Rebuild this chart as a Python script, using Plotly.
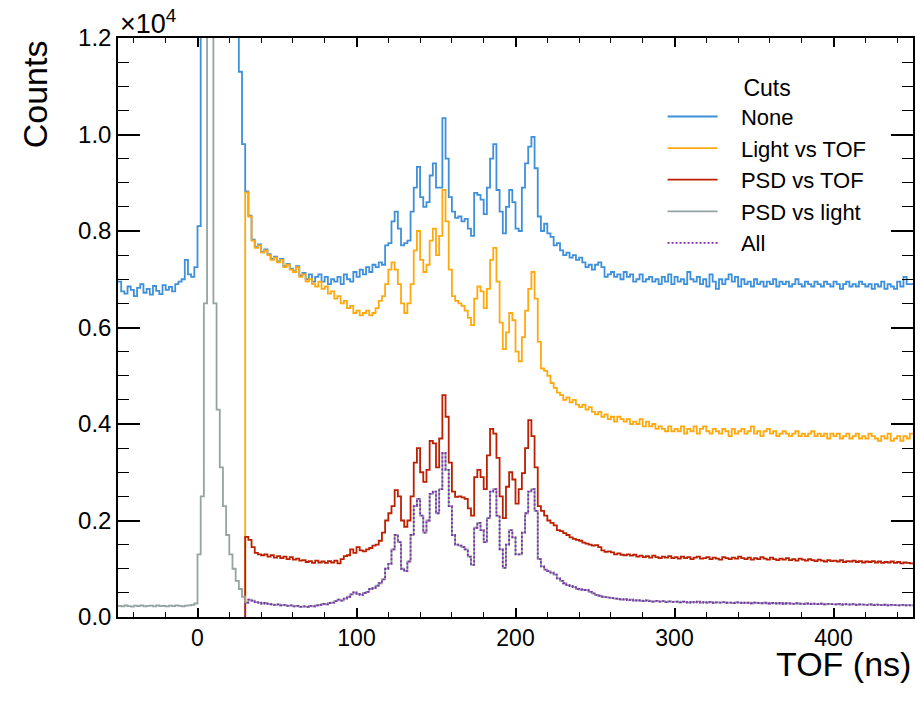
import plotly.graph_objects as go

# ---------------- data (2 ns bins, values = counts) ----------------
BIN = 2
TOF_START = -50      # first bin left edge of full-range histograms
CUT_START = 30       # first bin left edge of TOF-cut histograms

# "None" cut, bins -50 .. 28 ns
none_pre = [6950, 6750, 6700, 6850, 6780, 6650, 6820, 6900, 6720, 6800,
            6680, 6860, 6760, 6690, 6880, 6780, 6840, 6750, 6900, 6950,
            7000, 7400, 7100, 7050, 7250,
            8100, 16000, 30000, 45000, 50000,
            45000, 38000, 30000, 24000, 19000,
            16000, 14000, 12600, 11300, 9800]
# "None" cut, bins 30 .. 448 ns
none_post = [8820, 8320, 7820, 7670, 7720, 7570, 7620, 7520, 7420, 7470,
             7370, 7420, 7270, 7320, 7220, 7170, 7270, 7080, 7130, 7000,
             7100, 6950, 7050, 7100, 6950, 7050, 6900, 7000, 6950, 7050,
             6900, 7100, 7000, 6950, 7150, 7050, 7200, 7100, 7250, 7150,
             7300, 7250, 7350, 7300, 7700, 7750, 8200, 8400, 8050, 7700,
             7750, 7800, 8400, 8900, 9330, 8700, 8500, 8600, 9150, 9400,
             8900, 8900, 10340, 9500, 8700, 8400, 8270, 8300, 8200, 8250,
             8050, 7900, 8790, 8750, 8650, 8350, 8900, 9500, 9800, 8850,
             8400, 7950, 8500, 8850, 8600, 8050, 8000, 8900, 9400, 9750,
             9950, 9300, 8300, 8000, 8150, 7950, 7880, 7700, 7750, 7600,
             7500, 7550, 7450, 7500, 7400, 7450, 7350, 7250, 7300, 7200,
             7300, 7350, 7250, 7050, 7100, 7150, 7050, 7100, 7000, 7150,
             7050, 7100, 6950, 7000, 7100, 6950, 7000, 7050, 6950, 7000,
             6900, 7050, 6950, 7100, 6900, 7050, 6950, 7000, 6900, 7150,
             7000, 6950, 7050, 6900, 7000, 6850, 7100, 6950, 6800, 7000,
             6900, 7000, 7100, 6950, 7050, 6850, 7000, 6900, 6950, 6850,
             7000, 6900, 6950, 6850, 6950, 6900, 7000, 6850, 6950, 6900,
             6950, 6850, 6900, 7000, 6900, 6850, 6950, 6900, 6850, 6950,
             6900, 6850, 6950, 6900, 6850, 6950, 6900, 6800, 6900, 6950,
             6850, 6900, 6850, 6950, 6900, 6850, 6900, 6800, 6900, 6850,
             6950, 6800, 6900, 6850, 6800, 6950, 6850, 7050, 6900, 6900]

# "Light vs TOF" cut, bins 30 .. 448 ns
light_tof = [8800, 8300, 7800, 7650, 7700, 7550, 7600, 7500, 7400, 7450,
             7350, 7400, 7250, 7300, 7200, 7150, 7250, 7050, 7100, 6950,
             7000, 6900, 6850, 6950, 6800, 6850, 6700, 6750, 6600, 6650,
             6500, 6550, 6400, 6450, 6300, 6350, 6250, 6300, 6350, 6250,
             6300, 6400, 6550, 6650, 6900, 7200, 7350, 7200, 6900, 6500,
             6300, 6500, 6900, 7600, 8000, 7400, 7150, 7300, 7800, 8050,
             7500, 7900, 8850, 8200, 7200, 6650, 6550, 6500, 6450, 6350,
             6200, 6050, 6600, 6850, 6750, 6400, 6800, 7400, 7650, 6950,
             6100, 5550, 5900, 6300, 6150, 5500, 5300, 5800, 6350, 6800,
             7150, 6600, 5700, 5150, 5100, 5000, 4850, 4750, 4650, 4600,
             4500, 4550, 4450, 4500, 4400, 4350, 4400, 4300, 4350, 4250,
             4200, 4250, 4150, 4200, 4100, 4150, 4050, 4150, 4100, 4050,
             4100, 4000, 4050, 4000, 4100, 3950, 4050, 3950, 4000, 3900,
             3950, 3900, 3850, 3950, 3850, 3900, 3850, 3950, 3800, 3900,
             3850, 3950, 3800, 3900, 3950, 3850, 3800, 3900, 3850, 3800,
             3900, 3850, 3750, 3900, 3800, 3850, 3900, 3800, 3850, 3950,
             3800, 3850, 3750, 3850, 3900, 3800, 3850, 3750, 3800, 3850,
             3800, 3750, 3800, 3850, 3750, 3800, 3750, 3800, 3850, 3750,
             3800, 3750, 3800, 3700, 3800, 3750, 3800, 3700, 3750, 3800,
             3700, 3750, 3800, 3700, 3750, 3700, 3800, 3750, 3700, 3650,
             3750, 3700, 3800, 3650, 3700, 3750, 3650, 3750, 3700, 3800]

# "PSD vs TOF" cut, bins 30 .. 448 ns
psd_tof = [1660, 1600, 1450, 1330, 1300, 1280, 1300, 1250, 1280, 1230,
           1260, 1220, 1250, 1200, 1240, 1190, 1210, 1170, 1180, 1140,
           1160, 1120, 1170, 1130, 1150, 1120, 1160, 1130, 1170, 1110,
           1200, 1260, 1280, 1400, 1330, 1450, 1380, 1360, 1400, 1430,
           1480, 1500, 1580, 1750, 2000, 2150, 2300, 2630, 2500, 2000,
           1870, 2000, 2500, 3200, 3500, 3000, 2800, 3050, 3650, 3600,
           3100, 3700, 4600, 4150, 3200, 2600, 2490, 2500, 2480, 2450,
           2250, 2100, 2900, 3050, 2900, 2650, 3350, 3900, 3800, 3300,
           2500, 2050, 2700, 3000, 2850, 2350, 2650, 2980, 3500, 4080,
           3750, 3100, 2300, 2200, 2100, 2000, 1950, 1900, 1800, 1780,
           1740, 1700, 1650, 1620, 1600, 1580, 1540, 1520, 1500, 1480,
           1490, 1450, 1380, 1350, 1360, 1340, 1300, 1320, 1290, 1280,
           1300, 1270, 1290, 1250, 1270, 1240, 1260, 1230, 1270, 1240,
           1220, 1250, 1230, 1260, 1220, 1240, 1210, 1250, 1220, 1240,
           1200, 1230, 1250, 1210, 1220, 1240, 1200, 1230, 1210, 1190,
           1240, 1220, 1200, 1230, 1210, 1250, 1220, 1200, 1230, 1190,
           1220, 1200, 1240, 1210, 1190, 1230, 1200, 1180, 1210, 1190,
           1220, 1180, 1200, 1170, 1210, 1190, 1170, 1200, 1180, 1160,
           1190, 1170, 1150, 1180, 1160, 1170, 1150, 1180, 1140, 1160,
           1150, 1170, 1140, 1160, 1130, 1150, 1140, 1160, 1130, 1150,
           1120, 1140, 1130, 1150, 1120, 1140, 1110, 1130, 1120, 1110]

# "PSD vs light" cut, bins -50 .. 28 ns (for >= 30 ns it follows the "All" values)
psd_light_pre = [230, 220, 240, 225, 215, 235, 225, 240, 220, 230,
                 235, 220, 240, 225, 230, 220, 235, 225, 240, 230,
                 220, 235, 240, 250, 280,
                 1300, 2500, 6500, 30000, 24000,
                 6500, 4300, 3100, 2300, 1700,
                 1300, 1000, 750, 580, 420]

# "All" cuts, bins 30 .. 448 ns
all_cuts = [300, 360, 340, 310, 300, 280, 290, 270, 260, 250,
            260, 240, 250, 230, 240, 220, 230, 210, 220, 210,
            230, 220, 240, 250, 270, 260, 290, 300, 330, 360,
            340, 380, 420, 470, 510, 480, 460, 500, 520, 580,
            600, 650, 700, 780, 1000, 1100, 1400, 1700, 1550, 1000,
            950, 1150, 1700, 2300, 2450, 2100, 1750, 2000, 2550, 2600,
            2150, 2650, 3400, 3050, 2300, 1700, 1500, 1480, 1450, 1400,
            1250, 1080, 1850, 1950, 1800, 1550, 2050, 2600, 2650, 2100,
            1400, 1020, 1500, 1800, 1650, 1300, 1300, 1750, 2150, 2600,
            2650, 2200, 1200, 1050, 980, 950, 920, 880, 800, 750,
            700, 660, 640, 620, 580, 570, 560, 560, 520, 490,
            460, 440, 420, 410, 400, 390, 380, 370, 360, 370,
            350, 360, 340, 350, 340, 330, 345, 330, 320, 335,
            320, 330, 310, 325, 315, 320, 305, 320, 310, 300,
            315, 305, 320, 300, 310, 300, 315, 295, 305, 300,
            310, 295, 300, 290, 305, 300, 290, 300, 295, 285,
            300, 290, 285, 295, 280, 290, 285, 280, 290, 275,
            285, 280, 270, 285, 275, 270, 280, 265, 275, 270,
            265, 275, 260, 270, 265, 260, 270, 255, 265, 260,
            255, 265, 250, 260, 255, 250, 260, 245, 255, 250,
            245, 255, 240, 250, 245, 240, 250, 240, 245, 240]

series_names = ["None", "Light vs TOF", "PSD vs TOF", "PSD vs light", "All"]
colors = ["#3f90da", "#ffa90e", "#bd1f01", "#94a4a2", "#832db6"]

y_tick_vals = [0, 2000, 4000, 6000, 8000, 10000, 12000]
y_tick_text = ["0.0", "0.2", "0.4", "0.6", "0.8", "1.0", "1.2"]


def step_xy(start, vals, lead_zero=False):
    edges = [start + BIN * i for i in range(len(vals) + 1)]
    ys = list(vals) + [vals[-1]]
    if lead_zero:
        edges = [start] + edges
        ys = [0] + ys
    return edges, ys


series = [
    (TOF_START, none_pre + none_post, False),
    (CUT_START, light_tof, True),
    (CUT_START, psd_tof, True),
    (TOF_START, psd_light_pre + all_cuts, False),
    (CUT_START, all_cuts, True),
]

PAD = "\u00a0\u00a0\u00a0"

fig = go.Figure()
for (start, vals, lz), name, col in zip(series, series_names, colors):
    x, y = step_xy(start, vals, lz)
    line = dict(color=col, width=1.8, shape="hv")
    if name == "All":
        line.update(dash="2px,2px", width=1.8)
    fig.add_trace(go.Scatter(x=x, y=y, mode="lines", name=PAD + name,
                             line=line, hoverinfo="skip"))

FONT = "Liberation Sans, Arial, Helvetica, sans-serif"

axis_common = dict(
    showline=True, linecolor="black", linewidth=1.5, mirror="ticks",
    ticks="inside", tickcolor="black", showgrid=False, zeroline=False,
    automargin=False, layer="above traces",
)

fig.update_layout(
    template="simple_white",
    width=915, height=703,
    margin=dict(l=118, r=2, t=38, b=86, autoexpand=False),
    plot_bgcolor="white", paper_bgcolor="white",
    font=dict(family=FONT, size=24, color="black"),
    showlegend=True,
    legend=dict(
        title=dict(text="Cuts", side="top center", font=dict(size=23)),
        x=0.685, y=0.952, xanchor="left", yanchor="top",
        bgcolor="rgba(0,0,0,0)", font=dict(size=22), itemwidth=50,
        tracegroupgap=0,
    ),
    xaxis=dict(
        range=[-50, 450], ticklen=9, tickwidth=1.6, tick0=0, dtick=100,
        tickfont=dict(size=23, color="black"),
        minor=dict(dtick=20, tick0=0, ticks="inside", ticklen=5,
                   tickwidth=1.3, tickcolor="black", showgrid=False),
        **axis_common,
    ),
    yaxis=dict(
        range=[0, 12000], ticklen=22, tickwidth=1.6,
        tickmode="array", tickvals=y_tick_vals, ticktext=y_tick_text,
        tickfont=dict(size=24, color="black"),
        minor=dict(dtick=500, tick0=0, ticks="inside", ticklen=11,
                   tickwidth=1.3, tickcolor="black", showgrid=False),
        **axis_common,
    ),
    annotations=[
        dict(text="×10<sup>4</sup>", xref="paper", yref="paper", x=0.0, y=1.0,
             xanchor="left", yanchor="bottom", showarrow=False, yshift=-3,
             font=dict(size=27)),
        dict(text="Counts", xref="paper", yref="paper", x=-0.104, y=1.0,
             xanchor="center", yanchor="top", textangle=-90, showarrow=False,
             font=dict(size=34)),
        dict(text="TOF (ns)", xref="paper", yref="paper", x=1.0, y=-0.082,
             xanchor="right", yanchor="middle", showarrow=False,
             font=dict(size=34)),
    ],
)

fig.write_html("out.html",
               config={"displayModeBar": False},
               post_script="document.body.style.margin='0';"
                           "document.body.style.padding='0';")
